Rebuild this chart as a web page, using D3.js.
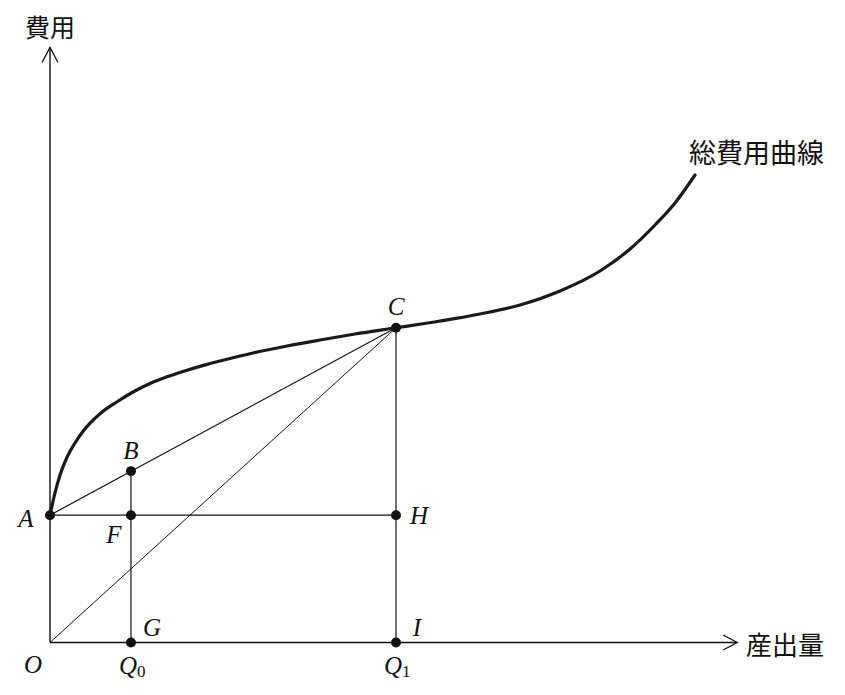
<!DOCTYPE html>
<html>
<head>
<meta charset="utf-8">
<script src="https://cdn.jsdelivr.net/npm/d3@7"></script>
<style>
  body { margin: 0; background: #fff; }
  svg { display: block; }
</style>
</head>
<body>
<div id="chart"></div>
<script>
const width = 845;
const height = 695;

// total cost curve (output, cost)
const curveX = [0, 0.72, 1.45, 2.41, 3.61, 4.81, 7.23, 9.64, 12.0, 14.45, 16.91, 19.22, 22.83, 24.57, 29.34, 34.25, 39.02, 44.08, 50, 56.36, 62.14, 67.92, 73.7, 79.48, 83.82, 87.43, 90.32, 93.21];
const curveY = [21.4, 25.13, 28.15, 31.01, 33.53, 35.55, 38.45, 40.42, 42.1, 43.53, 44.65, 45.55, 46.78, 47.31, 48.66, 49.83, 50.84, 51.85, 52.9, 54.03, 55.21, 56.72, 59.08, 62.44, 66.13, 70.17, 73.87, 78.57];

// named points
const pointNames = ["A", "B", "F", "G", "C", "H", "I"];
const pointX = [0, 11.7, 11.7, 11.7, 50, 50, 50];
const pointY = [21.4, 28.8, 21.4, 0, 52.9, 21.4, 0];

// label offsets are in pixels relative to each point
const labelDx = [-24, 0, -17, 21, 0, 23, 21];
const labelDy = [12, -12, 28, -7, -13, 9, -7];

const xAxisEnd = 99.3;
const yAxisEnd = 100;

const x = d3.scaleLinear().domain([0, 100]).range([50, 742]);
const y = d3.scaleLinear().domain([0, 100]).range([642.5, 47.5]);

const svg = d3.select("#chart")
    .append("svg")
    .attr("width", width)
    .attr("height", height);

const pt = name => {
    const i = pointNames.indexOf(name);
    return [pointX[i], pointY[i]];
};

// axes
svg.append("line")
    .attr("x1", x(0)).attr("y1", y(0))
    .attr("x2", x(0)).attr("y2", y(yAxisEnd))
    .attr("stroke", "#111").attr("stroke-width", 1.4);
svg.append("line")
    .attr("x1", x(0)).attr("y1", y(0))
    .attr("x2", x(xAxisEnd)).attr("y2", y(0))
    .attr("stroke", "#111").attr("stroke-width", 1.4);

// open arrow heads
svg.append("path")
    .attr("d", `M${x(0) - 8},${y(yAxisEnd) + 15}L${x(0)},${y(yAxisEnd)}L${x(0) + 8},${y(yAxisEnd) + 15}`)
    .attr("fill", "none").attr("stroke", "#111").attr("stroke-width", 1.3);
svg.append("path")
    .attr("d", `M${x(xAxisEnd) - 14},${y(0) - 7.5}L${x(xAxisEnd)},${y(0)}L${x(xAxisEnd) - 14},${y(0) + 7.5}`)
    .attr("fill", "none").attr("stroke", "#111").attr("stroke-width", 1.3);

// thin construction lines
const segments = [
    ["A", "C"], ["A", "H"], ["B", "G"], ["C", "I"]
];
const thin = svg.append("g").attr("stroke", "#111").attr("stroke-width", 1.2);
segments.forEach(([p, q]) => {
    const a = pt(p), b = pt(q);
    thin.append("line")
        .attr("x1", x(a[0])).attr("y1", y(a[1]))
        .attr("x2", x(b[0])).attr("y2", y(b[1]));
});
// ray from origin to C
thin.append("line")
    .attr("x1", x(0)).attr("y1", y(0))
    .attr("x2", x(pt("C")[0])).attr("y2", y(pt("C")[1]))
    .attr("stroke-width", 1);

// total cost curve
const line = d3.line()
    .x(d => x(d[0]))
    .y(d => y(d[1]))
    .curve(d3.curveMonotoneX);

svg.append("path")
    .datum(curveX.map((v, i) => [v, curveY[i]]))
    .attr("d", line)
    .attr("fill", "none")
    .attr("stroke", "#1a1a1a")
    .attr("stroke-width", 3.2)
    .attr("stroke-linecap", "round");

// points
svg.append("g")
    .selectAll("circle")
    .data(pointNames)
    .enter().append("circle")
    .attr("cx", (d, i) => x(pointX[i]))
    .attr("cy", (d, i) => y(pointY[i]))
    .attr("r", 5)
    .attr("fill", "#111");

// point labels
const italic = "'Liberation Serif', 'DejaVu Serif', serif";
svg.append("g")
    .selectAll("text")
    .data(pointNames)
    .enter().append("text")
    .attr("x", (d, i) => x(pointX[i]) + labelDx[i])
    .attr("y", (d, i) => y(pointY[i]) + labelDy[i])
    .attr("text-anchor", "middle")
    .attr("font-family", italic)
    .attr("font-style", "italic")
    .attr("font-size", 25)
    .attr("fill", "#111")
    .text(d => d);

// origin and quantity labels
svg.append("text")
    .attr("x", x(0) - 17).attr("y", y(0) + 30)
    .attr("text-anchor", "middle")
    .attr("font-family", italic).attr("font-style", "italic")
    .attr("font-size", 25).attr("fill", "#111")
    .text("O");

const qLabels = [["0", pt("G")[0]], ["1", pt("I")[0]]];
qLabels.forEach(([sub, qx]) => {
    const t = svg.append("text")
        .attr("x", x(qx) - 12).attr("y", y(0) + 31)
        .attr("font-family", italic)
        .attr("font-size", 25).attr("fill", "#111");
    t.append("tspan").attr("font-style", "italic").text("Q");
    t.append("tspan").attr("font-size", 17).attr("dy", 3).text(sub);
});

// Japanese labels
const cjk = "'Noto Sans CJK JP', sans-serif";
svg.append("text")
    .attr("x", x(0)).attr("y", 26)
    .attr("text-anchor", "middle")
    .attr("dominant-baseline", "central")
    .attr("font-family", cjk).attr("font-size", 25).attr("fill", "#111")
    .text("費用");

svg.append("text")
    .attr("x", 746).attr("y", y(0) + 1)
    .attr("dominant-baseline", "central")
    .attr("font-family", cjk).attr("font-size", 26).attr("fill", "#111")
    .text("産出量");

svg.append("text")
    .attr("x", 689).attr("y", 151)
    .attr("dominant-baseline", "central")
    .attr("font-family", cjk).attr("font-size", 27).attr("fill", "#111")
    .text("総費用曲線");
</script>
</body>
</html>
